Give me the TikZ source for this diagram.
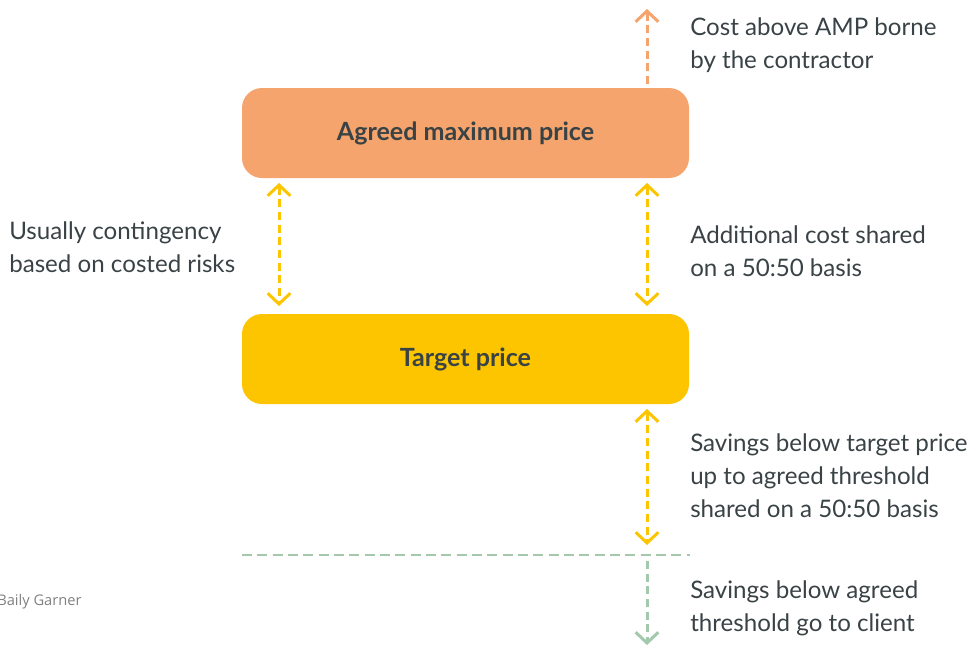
\documentclass[tikz,border=0pt]{standalone}
\usepackage{fontspec}
\setmainfont{Lato}
\newfontfamily\creditfont{Open Sans}
\usetikzlibrary{arrows.meta}
\definecolor{ampOrange}{HTML}{F4A46C}
\definecolor{tpYellow}{HTML}{FCC500}
\definecolor{saveGreen}{HTML}{A3C8AC}
\definecolor{inkGrey}{HTML}{394245}
\tikzset{
  pricebox/.style={rounded corners=15pt, minimum width=335.25pt, minimum height=67.5pt,
    inner sep=0pt, font=\bfseries\fontsize{18.8}{22}\selectfont, text=inkGrey},
  note/.style={anchor=west, align=left, inner sep=0pt,
    font=\fontsize{18.1}{24.75}\selectfont, text=inkGrey},
  gapline/.style={line width=2.25pt, dash pattern=on 6pt off 3.5pt},
  chev/.tip={Straight Barb[length=8pt,width=17pt,line width=2.25pt]}
}
\begin{document}
\begin{tikzpicture}[x=0.75pt,y=-0.75pt]
\useasboundingbox (0,0) rectangle (970,646);
% Price boxes
\node[pricebox, fill=ampOrange] (amp) at (465.5,133) {Agreed maximum price};
\node[pricebox, fill=tpYellow] (target) at (465.5,359) {Target price};
% Arrow ends
\coordinate (ampUp) at (647,84);
\coordinate (ampOut) at (647,9);
\coordinate (contTop) at (279,183);
\coordinate (contBot) at (279,306);
\coordinate (addTop) at (647,183);
\coordinate (addBot) at (647,306);
\coordinate (saveTop) at (647,409);
\coordinate (saveBot) at (647,545);
\coordinate (lineL) at (242,555);
\coordinate (lineR) at (690,555);
\coordinate (clientTop) at (647,561);
\coordinate (clientBot) at (647,645);
% Dashed arrows
\draw[gapline, ampOrange, -{chev}] (ampUp) -- (ampOut);
\draw[gapline, tpYellow, {chev}-{chev}] (contTop) -- (contBot);
\draw[gapline, tpYellow, {chev}-{chev}] (addTop) -- (addBot);
\draw[gapline, tpYellow, {chev}-{chev}] (saveTop) -- (saveBot);
% Threshold line
\draw[saveGreen, line width=2pt, dash pattern=on 7.5pt off 4pt] (lineL) -- (lineR);
\draw[gapline, saveGreen, -{chev}] (clientTop) -- (clientBot);
% Notes
\node[note] (costNote) at (690,45) {Cost above AMP borne\\by the contractor};
\node[note] (contNote) at (9,247) {Usually contingency\\based on costed risks};
\node[note] (addNote) at (690,251) {Additional cost shared\\on a 50:50 basis};
\node[note] (saveNote) at (690,476) {Savings below target price\\up to agreed threshold\\shared on a 50:50 basis};
\node[note] (clientNote) at (690,608) {Savings below agreed\\threshold go to client};
\node[anchor=west, inner sep=0pt, text=gray, font=\creditfont\fontsize{11}{13}\selectfont] (credit) at (-3,602) {Baily Garner};
\end{tikzpicture}
\end{document}
